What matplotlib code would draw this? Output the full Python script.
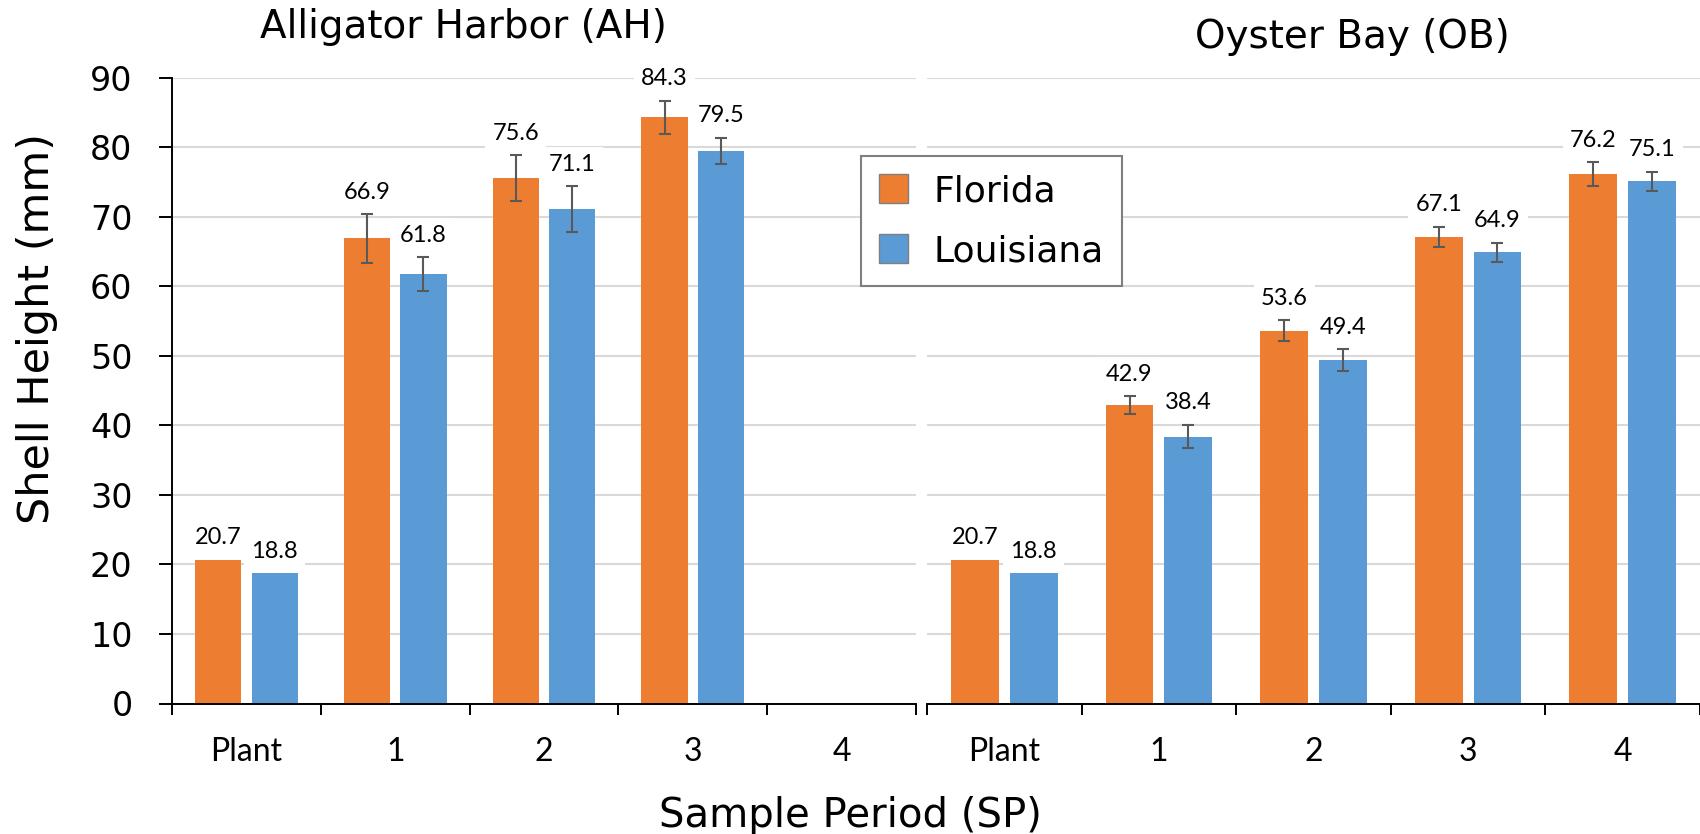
import numpy as np
import matplotlib
matplotlib.use('Agg')
import matplotlib.pyplot as plt
from matplotlib.patches import Patch

# sample periods shared by both sites
periods = ['Plant', '1', '2', '3', '4']

# Alligator Harbor (no sample taken at period 4)
ah_florida = [20.7, 66.9, 75.6, 84.3, np.nan]
ah_louisiana = [18.8, 61.8, 71.1, 79.5, np.nan]
ah_florida_err = [np.nan, 3.5, 3.3, 2.4, np.nan]
ah_louisiana_err = [np.nan, 2.4, 3.3, 1.9, np.nan]

# Oyster Bay
ob_florida = [20.7, 42.9, 53.6, 67.1, 76.2]
ob_louisiana = [18.8, 38.4, 49.4, 64.9, 75.1]
ob_florida_err = [np.nan, 1.3, 1.5, 1.5, 1.7]
ob_louisiana_err = [np.nan, 1.7, 1.6, 1.4, 1.4]

ORANGE = '#ED7D31'
BLUE = '#5B9BD5'
NUM_FONT = ['Lato', 'DejaVu Sans']
TXT_FONT = ['DejaVu Sans']

W, H = 1700, 834


def px(x, y):
    # pixel position (from top-left) -> figure fraction
    return x / W, 1 - y / H


def draw_panel(ax, florida, louisiana, f_err, l_err, show_y=True):
    x = np.arange(len(periods))
    width, off = 0.31, 0.19

    for vals, errs, dx, color in [(florida, f_err, -off, ORANGE),
                                  (louisiana, l_err, off, BLUE)]:
        vals = np.array(vals, dtype=float)
        errs = np.array(errs, dtype=float)
        ax.bar(x + dx, vals, width, color=color, zorder=2)
        ok = ~np.isnan(errs)
        ax.errorbar(x[ok] + dx, vals[ok], yerr=errs[ok], fmt='none',
                    ecolor='#595959', elinewidth=1.5, capsize=4.5,
                    capthick=1.5, zorder=5)
        for xi, v, e in zip(x, vals, errs):
            if np.isnan(v):
                continue
            top = v + (0 if np.isnan(e) else e)
            ax.annotate(f'{v:.1f}', xy=(xi + dx, top), xytext=(0, 11),
                        textcoords='offset points', ha='center',
                        va='baseline', fontsize=17, family=NUM_FONT,
                        bbox=dict(boxstyle='square,pad=0.3', fc='white',
                                  ec='none'),
                        zorder=4)

    ax.set_xlim(-0.5, len(periods) - 0.5)
    ax.set_ylim(0, 90)
    ax.set_axisbelow(True)
    ax.yaxis.grid(True, color='#d9d9d9', linewidth=1.5)

    ax.set_xticks(x)
    ax.set_xticklabels(periods, fontsize=23, family=NUM_FONT)
    ax.set_xticks(np.arange(len(periods) + 1) - 0.5, minor=True)
    ax.tick_params(axis='x', which='major', length=0, pad=24)
    ax.tick_params(axis='x', which='minor', length=8, width=1.4,
                   direction='out')

    ax.set_yticks(np.arange(0, 91, 10))
    for s in ['top', 'right']:
        ax.spines[s].set_visible(False)
    ax.spines['bottom'].set_linewidth(1.4)
    if show_y:
        ax.spines['left'].set_linewidth(1.4)
        ax.tick_params(axis='y', length=9.4, width=1.4, pad=19,
                       labelsize=24)
        for lab in ax.get_yticklabels():
            lab.set_family(TXT_FONT)
    else:
        ax.spines['left'].set_visible(False)
        ax.tick_params(axis='y', length=0, labelleft=False)


def main():
    fig = plt.figure(figsize=(W / 100, H / 100), dpi=100)

    bottom = 1 - 703.5 / H
    height = (703.5 - 77.8) / H
    ax_ah = fig.add_axes([172 / W, bottom, (916 - 172) / W, height])
    ax_ob = fig.add_axes([927 / W, bottom, (1700 - 927) / W, height])

    draw_panel(ax_ah, ah_florida, ah_louisiana, ah_florida_err,
               ah_louisiana_err, show_y=True)
    draw_panel(ax_ob, ob_florida, ob_louisiana, ob_florida_err,
               ob_louisiana_err, show_y=False)

    fig.text(*px(463, 38), 'Alligator Harbor (AH)', ha='center',
             va='baseline', fontsize=28, family=TXT_FONT)
    fig.text(*px(1352, 48), 'Oyster Bay (OB)', ha='center',
             va='baseline', fontsize=28, family=TXT_FONT)
    fig.text(*px(850, 827), 'Sample Period (SP)', ha='center',
             va='baseline', fontsize=29, family=TXT_FONT)
    fig.text(*px(37, 328), 'Shell Height (mm)', ha='center', va='center',
             rotation=90, fontsize=31, family=TXT_FONT)

    handles = [Patch(facecolor=ORANGE, edgecolor='#7f7f7f', label='Florida'),
               Patch(facecolor=BLUE, edgecolor='#7f7f7f', label='Louisiana')]
    leg = fig.legend(handles=handles, loc='upper left',
                     bbox_to_anchor=px(861, 156), borderaxespad=0,
                     prop={'family': TXT_FONT, 'size': 26},
                     handlelength=0.8, handleheight=0.83,
                     handletextpad=0.7, labelspacing=0.72, borderpad=0.5,
                     fancybox=False, framealpha=1)
    leg.get_frame().set_edgecolor('#7f7f7f')
    leg.get_frame().set_linewidth(1.5)

    fig.savefig('out.png', dpi=100)


if __name__ == '__main__':
    main()
